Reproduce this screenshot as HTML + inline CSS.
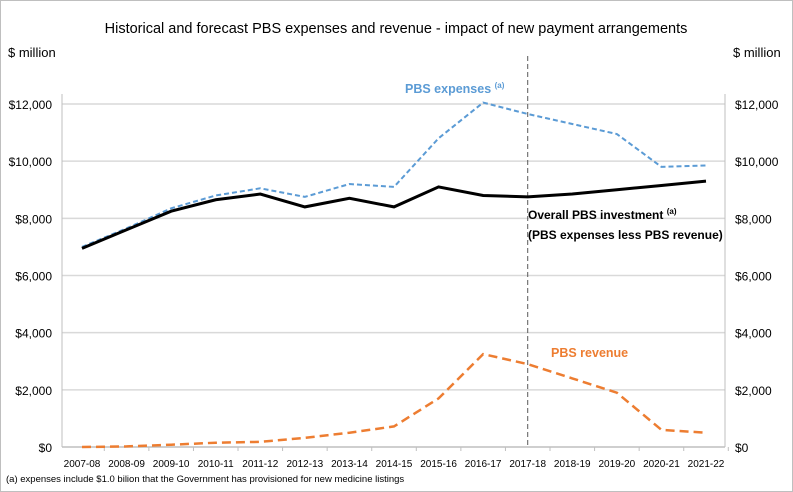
<!DOCTYPE html>
<html><head><meta charset="utf-8"><style>
body{margin:0;background:#fff;}
svg{display:block;font-family:"Liberation Sans",sans-serif;}
</style></head><body>
<svg id="c" width="793" height="492">
<rect x="0.5" y="0.5" width="792" height="491" fill="#fff" stroke="#bfbfbf"/>
<text x="396" y="33" text-anchor="middle" font-size="14.5" fill="#000">Historical and forecast PBS expenses and revenue - impact of new payment arrangements</text>
<text x="8" y="57" font-size="13">$ million</text>
<text x="733" y="57" font-size="13">$ million</text>
<text x="6" y="482" font-size="9.5">(a) expenses include $1.0 bilion that the Government  has provisioned for new medicine listings</text>
<g id="grid"></g><g id="axes"></g><g id="series"></g>
<text x="405" y="93" font-size="12.5" font-weight="bold" fill="#5b9bd5">PBS expenses <tspan font-size="8" dy="-5">(a)</tspan></text>
<text x="528" y="219" font-size="12" font-weight="bold" fill="#000">Overall PBS investment <tspan font-size="8" dy="-5">(a)</tspan></text>
<text x="528" y="239" font-size="12" font-weight="bold" fill="#000">(PBS expenses less PBS revenue)</text>
<text x="551" y="357" font-size="12.5" font-weight="bold" fill="#ed7d31">PBS revenue</text>
</svg>
<script>
const categories=["2007-08","2008-09","2009-10","2010-11","2011-12","2012-13","2013-14","2014-15","2015-16","2016-17","2017-18","2018-19","2019-20","2020-21","2021-22"];
const expenses=[7000,7650,8350,8800,9050,8750,9200,9100,10800,12050,11650,11300,10950,9800,9850];
const investment=[6950,7600,8250,8650,8850,8400,8700,8400,9100,8800,8750,8850,9000,9150,9300];
const revenue=[0,20,80,150,180,320,500,720,1700,3250,2900,2400,1900,600,500];
const yTicks=[0,2000,4000,6000,8000,10000,12000];
const yTickLabels=["$0","$2,000","$4,000","$6,000","$8,000","$10,000","$12,000"];
const forecastStart="2017-18";
const NS="http://www.w3.org/2000/svg";
const L=62,R=725,Y0=447,Y12=104,X0=82,XN=706;
const x=i=>X0+i*(XN-X0)/(categories.length-1);
const y=v=>Y0-(v/12000)*(Y0-Y12);
function mk(tag,attrs,parent,txt){const e=document.createElementNS(NS,tag);for(const k in attrs)e.setAttribute(k,attrs[k]);if(txt!=null)e.textContent=txt;document.getElementById(parent).appendChild(e);return e;}
yTicks.forEach((t,i)=>{
 if(t>0){const g=mk('line',{x1:L,x2:R,y1:y(t),y2:y(t),stroke:'#d9d9d9','stroke-width':1.5},'grid');
 
 }
 const a=mk('text',{x:52,y:y(t)+5,'text-anchor':'end','font-size':12},'axes',yTickLabels[i]);
 
 
 const b=mk('text',{x:735,y:y(t)+5,'font-size':12},'axes',yTickLabels[i]);
 
 
});
mk('line',{x1:L,x2:L,y1:Y12-10,y2:Y0,stroke:'#bfbfbf'},'axes');
mk('line',{x1:R,x2:R,y1:Y12-10,y2:Y0,stroke:'#bfbfbf'},'axes');
const xa=mk('line',{x1:L,x2:R,y1:Y0,y2:Y0,stroke:'#bfbfbf','stroke-width':1.5},'axes');


categories.forEach((c,i)=>{
 const t=mk('text',{x:x(i),y:467,'text-anchor':'middle','font-size':10},'axes',c);
 
 
 mk('line',{x1:x(i)+22.3,x2:x(i)+22.3,y1:Y0,y2:Y0+4,stroke:'#bfbfbf'},'axes');
});
const fi=categories.indexOf(forecastStart);
const fl=mk('line',{x1:x(fi),x2:x(fi),y1:56,y2:Y0,stroke:'#595959','stroke-dasharray':'5,3'},'series');


function line(vals,attrs,name){const p=mk('polyline',Object.assign({points:vals.map((v,i)=>x(i)+','+y(v)).join(' '),fill:'none'},attrs),'series');

}
line(expenses,{stroke:'#5b9bd5','stroke-width':2,'stroke-dasharray':'5,3'},'expenses-line');
line(investment,{stroke:'#000','stroke-width':3},'investment-line');
line(revenue,{stroke:'#ed7d31','stroke-width':2.5,'stroke-dasharray':'9,5'},'revenue-line');
</script>
</body></html>
